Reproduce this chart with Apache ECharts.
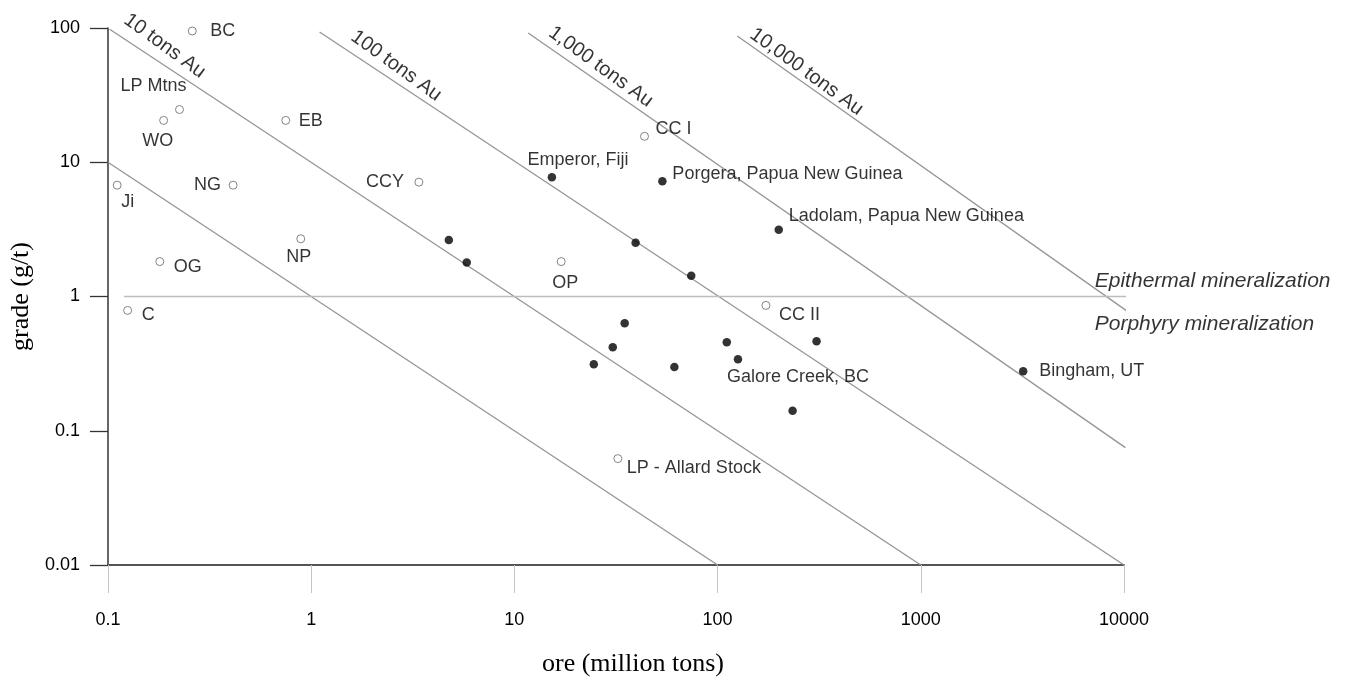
<!DOCTYPE html>
<html><head><meta charset="utf-8">
<script src="https://cdn.jsdelivr.net/npm/echarts@6/dist/echarts.min.js"></script>
<style>html,body{margin:0;padding:0;background:#fff}#c{width:1350px;height:682px}</style>
</head><body><div id="c"></div>
<script>
// ---- data ----
const xTickLabels = ['0.1','1','10','100','1000','10000'];
const yTickLabels = ['0.01','0.1','1','10','100'];

const openNames = ['BC','LP Mtns','WO','EB','Ji','NG','CCY','NP','OG','C','OP','CC I','CC II','LP - Allard Stock'];
const openOre   = [0.260, 0.225, 0.188, 0.750, 0.111, 0.413, 3.39, 0.889, 0.180, 0.125, 17.0, 43.7, 173, 32.3];
const openGrade = [95.0, 24.7, 20.5, 20.5, 6.75, 6.75, 7.11, 2.69, 1.82, 0.788, 1.82, 15.6, 0.858, 0.0620];

const filledNames = ['Emperor, Fiji','Porgera, Papua New Guinea','Ladolam, Papua New Guinea','Bingham, UT','Galore Creek, BC','','','','','','','','','','',''];
const filledOre   = [15.3, 53.5, 200, 3190, 126, 4.76, 5.83, 39.5, 74.2, 34.9, 30.5, 24.6, 61.3, 111, 307, 234];
const filledGrade = [7.74, 7.23, 3.14, 0.278, 0.341, 2.64, 1.79, 2.51, 1.43, 0.631, 0.419, 0.313, 0.298, 0.456, 0.464, 0.141];

// tonnage lines (end points)
const lineNames = ['1 ton','10 tons Au','100 tons Au','1,000 tons Au','10,000 tons Au'];
const lineOre   = [[0.1, 100], [0.102, 1000], [1.10, 10000], [11.7, 10160], [125, 10400]];
const lineGrade = [[10, 0.01], [98, 0.01], [93.4, 0.01], [91.8, 0.0749], [87.3, 0.774]];
const lineLabelOre   = [null, 0.19, 2.62, 26.6, 274];
const lineLabelGrade = [null, 73.6, 52.3, 51.4, 47.2];

// epithermal / porphyry divide
const divideOre = [0.12, 27100];
const divideGrade = [1, 1];
const regionNames = ['Epithermal mineralization','Porphyry mineralization'];
const regionOre = [7180, 7180];
const regionGrade = [1.31, 0.62];

// ---- label layout (style, not data) ----
const openLabelLayout = {
  'BC':['left',18,0], 'LP Mtns':['center',-26,-23], 'WO':['center',-6,21], 'EB':['left',13,1],
  'Ji':['left',4,17], 'NG':['right',-12,0], 'CCY':['right',-15,0], 'NP':['center',-2,18],
  'OG':['left',14,5], 'C':['left',14,5], 'OP':['center',4,21], 'CC I':['left',11,-7],
  'CC II':['left',13,10], 'LP - Allard Stock':['left',9,9]
};
const filledLabelLayout = {
  'Emperor, Fiji':['center',26,-17], 'Porgera, Papua New Guinea':['left',10,-7],
  'Ladolam, Papua New Guinea':['left',10,-14], 'Bingham, UT':['left',16,0],
  'Galore Creek, BC':['left',-11,18]
};

const SANS = '"Liberation Sans", Arial, Helvetica, sans-serif';
const SERIF = '"Liberation Serif", "Times New Roman", serif';
const TXT = '#000';

function pointItem(name, x, y, layout) {
  const item = { value: [x, y], name: name };
  const l = layout[name];
  if (name && l) {
    item.label = { show: true, position: 'inside', formatter: name, align: l[0], verticalAlign: 'middle',
      offset: [l[1], l[2]], fontSize: 18, fontFamily: SANS, color: TXT };
  }
  return item;
}

const series = [];
lineNames.forEach((n, i) => {
  series.push({ type: 'line', name: n, data: [[lineOre[i][0], lineGrade[i][0]], [lineOre[i][1], lineGrade[i][1]]],
    symbol: 'none', clip: false, silent: true, lineStyle: { color: '#959595', width: 1.3 }, z: 1 });
});
series.push({ type: 'line', data: [[divideOre[0], divideGrade[0]], [divideOre[1], divideGrade[1]]],
  symbol: 'none', clip: false, silent: true, lineStyle: { color: '#bdbdbd', width: 1.3 }, z: 1 });

const annot = [];
lineNames.forEach((n, i) => {
  if (lineLabelOre[i] == null) return;
  annot.push({ value: [lineLabelOre[i], lineLabelGrade[i]], label: { show: true, position: 'inside', formatter: n,
    align: 'center', verticalAlign: 'middle', rotate: -36, fontSize: 20, fontFamily: SANS, color: TXT } });
});
regionNames.forEach((n, i) => {
  annot.push({ value: [regionOre[i], regionGrade[i]], label: { show: true, position: 'inside', formatter: n,
    align: 'left', verticalAlign: 'middle', fontSize: 21, fontStyle: 'italic', fontFamily: SANS, color: TXT } });
});
series.push({ type: 'scatter', data: annot, symbolSize: 0, silent: true, clip: false, z: 3 });

series.push({ type: 'scatter', data: openNames.map((n, i) => pointItem(n, openOre[i], openGrade[i], openLabelLayout)),
  symbol: 'circle', symbolSize: 8, clip: false, silent: true,
  itemStyle: { color: '#fff', borderColor: '#666', borderWidth: 1 }, z: 4 });
series.push({ type: 'scatter', data: filledOre.map((x, i) => pointItem(filledNames[i] || '', x, filledGrade[i], filledLabelLayout)),
  symbol: 'circle', symbolSize: 8.5, clip: false, silent: true,
  itemStyle: { color: '#000' }, z: 4 });

const chart = echarts.init(document.getElementById('c'), null, { renderer: 'canvas' });
chart.setOption({
  animation: false,
  backgroundColor: '#fff',
  grid: { left: 104, right: 226, top: 28, bottom: 114, containLabel: false },
  xAxis: {
    type: 'log', logBase: 10, min: 0.1, max: 10000,
    name: 'ore (million tons)', nameLocation: 'middle', nameGap: 86,
    nameTextStyle: { fontFamily: SERIF, fontSize: 26, color: TXT, padding: [0, 0, 0, 34] },
    axisLine: { show: true, lineStyle: { color: '#555', width: 2 } },
    axisTick: { show: true, length: 28, lineStyle: { color: '#c4c4c4', width: 1 } },
    axisLabel: { margin: 46, fontSize: 18, fontFamily: SANS, color: TXT,
      formatter: (v, i) => xTickLabels[i] },
    splitLine: { show: false }, minorTick: { show: false }
  },
  yAxis: {
    type: 'log', logBase: 10, min: 0.01, max: 100,
    name: 'grade (g/t)', nameLocation: 'middle', nameGap: 68,
    nameTextStyle: { fontFamily: SERIF, fontSize: 26, color: TXT },
    axisLine: { show: true, lineStyle: { color: '#333', width: 1.5 } },
    axisTick: { show: true, length: 18, lineStyle: { color: '#333', width: 1.3 } },
    axisLabel: { margin: 28, fontSize: 18, fontFamily: SANS, color: TXT,
      formatter: (v, i) => yTickLabels[i] },
    splitLine: { show: false }, minorTick: { show: false }
  },
  series: series
});
</script>
</body></html>
